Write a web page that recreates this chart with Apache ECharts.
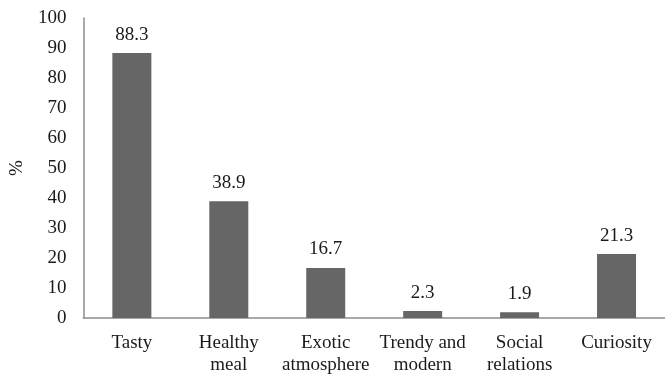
<!DOCTYPE html>
<html>
<head>
<meta charset="utf-8">
<script src="https://cdn.jsdelivr.net/npm/echarts@6/dist/echarts.min.js"></script>
<style>
  html, body { margin: 0; padding: 0; background: #fff; }
  #chart { width: 665px; height: 376px; }
</style>
</head>
<body>
<div id="chart"></div>
<script>
// Reasons given for choosing the restaurant (% of respondents)
const categories = ['Tasty', 'Healthy\nmeal', 'Exotic\natmosphere', 'Trendy and\nmodern', 'Social\nrelations', 'Curiosity'];
const percentages = [88.3, 38.9, 16.7, 2.3, 1.9, 21.3];
const yTicks = { min: 0, max: 100, interval: 10 };

const font = '"Liberation Serif", "Times New Roman", serif';
const chart = echarts.init(document.getElementById('chart'));
chart.setOption({
  animation: false,
  grid: { left: 83, top: 18, width: 589, bottom: 58 },
  xAxis: {
    type: 'category',
    data: categories,
    axisLine: { lineStyle: { color: '#8c8c8c', width: 1.5 } },
    axisTick: { show: false },
    axisLabel: { color: '#1a1a1a', fontFamily: font, fontSize: 19, lineHeight: 22, margin: 14, interval: 0 }
  },
  yAxis: {
    type: 'value',
    min: yTicks.min, max: yTicks.max, interval: yTicks.interval,
    name: '%',
    nameLocation: 'middle',
    nameGap: 55,
    nameRotate: 90,
    nameTextStyle: { color: '#1a1a1a', fontFamily: font, fontSize: 19 },
    axisLine: { show: true, lineStyle: { color: '#8c8c8c', width: 1.5 } },
    axisTick: { show: false },
    splitLine: { show: false },
    axisLabel: { color: '#1a1a1a', fontFamily: font, fontSize: 19, margin: 17 }
  },
  series: [{
    type: 'bar',
    data: percentages,
    barWidth: 39,
    itemStyle: { color: '#666666' },
    label: {
      show: true, position: 'top', distance: 9,
      color: '#1a1a1a', fontFamily: font, fontSize: 19,
      formatter: p => p.value.toFixed(1)
    }
  }]
});
</script>
</body>
</html>
